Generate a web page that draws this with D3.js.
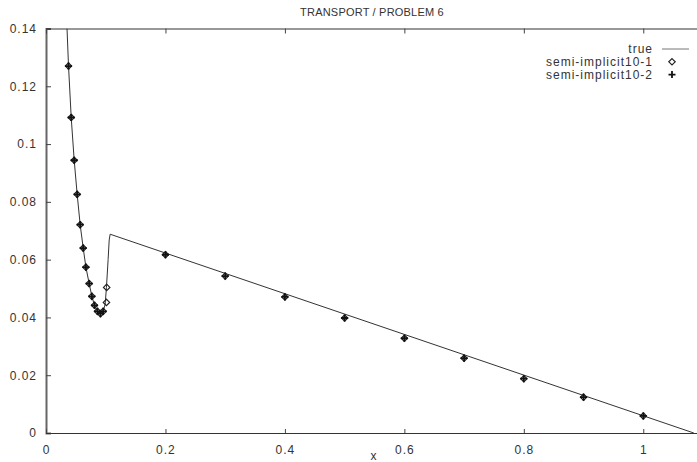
<!DOCTYPE html>
<html>
<head>
<meta charset="utf-8">
<script src="https://cdn.jsdelivr.net/npm/d3@7"></script>
<style>
  body { margin: 0; background: #fff; }
  svg { display: block; }
  text { font-family: "Liberation Sans", Arial, sans-serif; font-size: 12px; letter-spacing: 1px; fill: #333; }
  text.title { font-size: 11px; letter-spacing: 0.2px; }
</style>
</head>
<body>
<svg id="chart" width="697" height="462"></svg>
<script>
// values
var trueX = [0.0352, 0.0377, 0.0422, 0.0472, 0.0522, 0.0572, 0.0623, 0.0668, 0.0723, 0.0768, 0.0812, 0.0862, 0.0912, 0.0957, 0.0990, 0.1012, 0.1040, 0.1058, 0.1074, 1.0846];
var trueY = [0.1400, 0.1270, 0.1092, 0.0944, 0.0826, 0.0721, 0.0640, 0.0574, 0.0517, 0.0473, 0.0442, 0.0421, 0.0413, 0.0421, 0.0445, 0.0504, 0.0600, 0.0668, 0.0688, 0.0];

var semi1X = [0.0377, 0.0422, 0.0472, 0.0522, 0.0572, 0.0623, 0.0668, 0.0723, 0.0768, 0.0812, 0.0862, 0.0912, 0.0957, 0.1012, 0.1016, 0.2, 0.3, 0.4, 0.5, 0.6, 0.7, 0.8, 0.9, 1.0];
var semi1Y = [0.1270, 0.1092, 0.0944, 0.0826, 0.0721, 0.0640, 0.0574, 0.0517, 0.0473, 0.0442, 0.0421, 0.0413, 0.0421, 0.0452, 0.0504, 0.0617, 0.0543, 0.0471, 0.0398, 0.0328, 0.0259, 0.0188, 0.0124, 0.0059];

var semi2X = [0.0377, 0.0422, 0.0472, 0.0522, 0.0572, 0.0623, 0.0668, 0.0723, 0.0768, 0.0812, 0.0862, 0.0912, 0.0957, 0.2, 0.3, 0.4, 0.5, 0.6, 0.7, 0.8, 0.9, 1.0];
var semi2Y = [0.1270, 0.1092, 0.0944, 0.0826, 0.0721, 0.0640, 0.0574, 0.0517, 0.0473, 0.0442, 0.0421, 0.0413, 0.0421, 0.0617, 0.0543, 0.0471, 0.0398, 0.0328, 0.0259, 0.0188, 0.0124, 0.0059];

var xTicks = [0, 0.2, 0.4, 0.6, 0.8, 1];
var yTicks = [0, 0.02, 0.04, 0.06, 0.08, 0.1, 0.12, 0.14];
var legendNames = ["true", "semi-implicit10-1", "semi-implicit10-2"];

var svg = d3.select("#chart");

var x = d3.scaleLinear().domain([0, 1.1]).range([46, 703]);
var y = d3.scaleLinear().domain([0, 0.14]).range([433, 28.5]);

function pts(xs, ys) {
  return xs.map(function(v, i) { return [v, ys[i]]; });
}

svg.append("defs").append("clipPath").attr("id", "plot")
  .append("rect").attr("x", 46).attr("y", 28.5).attr("width", 660).attr("height", 405);

//************************ Axes *************************/
var fmt = function(d) { return d === 0 ? "0" : String(+d.toFixed(2)); };

var leftAxis = svg.append("g").attr("transform", "translate(46,0)")
  .call(d3.axisLeft(y).tickValues(yTicks).tickSize(-5).tickPadding(9).tickFormat(fmt));
leftAxis.select(".domain").attr("stroke", "#666").attr("stroke-width", 2);

var bottomAxis = svg.append("g").attr("transform", "translate(0,433)")
  .call(d3.axisBottom(x).tickValues(xTicks).tickSize(-4).tickPadding(12).tickFormat(fmt));

var topAxis = svg.append("g").attr("transform", "translate(0,28.5)")
  .call(d3.axisTop(x).tickValues(xTicks).tickSize(-5).tickFormat(""));

[leftAxis, bottomAxis, topAxis].forEach(function(g) {
  g.attr("font-family", null).attr("font-size", null);
  g.selectAll(".tick line").attr("stroke", "#444");
});
bottomAxis.select(".domain").attr("stroke", "#333");
topAxis.select(".domain").attr("stroke", "#333");

svg.append("text").attr("class", "title").attr("x", 372).attr("y", 16).attr("text-anchor", "middle")
  .text("TRANSPORT / PROBLEM 6");
svg.append("text").attr("x", 374).attr("y", 460).attr("text-anchor", "middle").text("x");

//************************ Series *************************/
var plot = svg.append("g").attr("clip-path", "url(#plot)");

var line = d3.line().x(function(d) { return x(d[0]); }).y(function(d) { return y(d[1]); });

plot.append("path")
  .datum(pts(trueX, trueY))
  .attr("fill", "none")
  .attr("stroke", "#333")
  .attr("stroke-width", 1)
  .attr("d", line);

var diamond = "M0,-3.2L3.2,0L0,3.2L-3.2,0Z";
var plus = "M-3.5,0H3.5M0,-3.5V3.5";

plot.selectAll("path.s1")
  .data(pts(semi1X, semi1Y))
  .enter().append("path")
  .attr("class", "s1")
  .attr("transform", function(d) { return "translate(" + x(d[0]) + "," + y(d[1]) + ")"; })
  .attr("d", diamond)
  .attr("fill", "none")
  .attr("stroke", "#222")
  .attr("stroke-width", 1.2);

plot.selectAll("path.s2")
  .data(pts(semi2X, semi2Y))
  .enter().append("path")
  .attr("class", "s2")
  .attr("transform", function(d) { return "translate(" + x(d[0]) + "," + y(d[1]) + ")"; })
  .attr("d", plus)
  .attr("fill", "none")
  .attr("stroke", "#111")
  .attr("stroke-width", 1.8);

//************************ Legend *************************/
var legend = svg.append("g").selectAll("g")
  .data(legendNames)
  .enter().append("g")
  .attr("transform", function(d, i) { return "translate(0," + (49 + i * 12.8) + ")"; });

legend.append("text")
  .attr("x", 653)
  .attr("dy", "0.35em")
  .attr("text-anchor", "end")
  .text(function(d) { return d; });

legend.filter(function(d, i) { return i === 0; })
  .append("line")
  .attr("x1", 662).attr("x2", 689)
  .attr("stroke", "#777").attr("stroke-width", 1);

legend.filter(function(d, i) { return i === 1; })
  .append("path")
  .attr("transform", "translate(672,0)")
  .attr("d", diamond)
  .attr("fill", "none").attr("stroke", "#222").attr("stroke-width", 1.2);

legend.filter(function(d, i) { return i === 2; })
  .append("path")
  .attr("transform", "translate(672,0)")
  .attr("d", plus)
  .attr("fill", "none").attr("stroke", "#111").attr("stroke-width", 1.8);
</script>
</body>
</html>
